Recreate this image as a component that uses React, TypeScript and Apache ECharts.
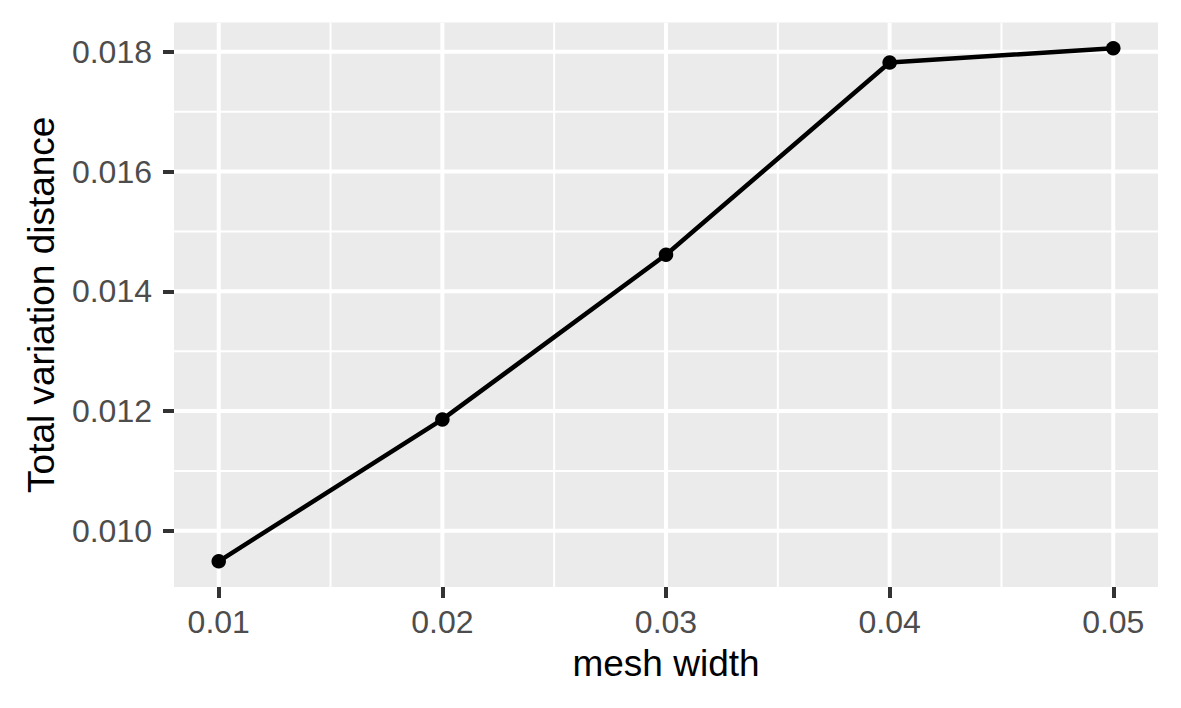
import React, { useEffect, useRef } from "react";
import * as echarts from "echarts";

const meshWidth = [0.01, 0.02, 0.03, 0.04, 0.05];
const tvDistance = [0.00949, 0.01186, 0.01461, 0.01782, 0.01806];
const xMajorTicks = [0.01, 0.02, 0.03, 0.04, 0.05];
const xMinorTicks = [0.015, 0.025, 0.035, 0.045];
const yMajorTicks = [0.01, 0.012, 0.014, 0.016, 0.018];
const yMinorTicks = [0.011, 0.013, 0.015, 0.017];
const xTitle = "mesh width";
const yTitle = "Total variation distance";

export default function App() {
  const ref = useRef<HTMLDivElement>(null);

  useEffect(() => {
    if (!ref.current) return;
    const chart = echarts.init(ref.current, undefined, { renderer: "svg" });

    const xMin = Math.min(...meshWidth);
    const xMax = Math.max(...meshWidth);
    const yMin = Math.min(...tvDistance);
    const yMax = Math.max(...tvDistance);
    const xPad = (xMax - xMin) * 0.05;
    const yPad = (yMax - yMin) * 0.05;
    const xMid = (xMin + xMax) / 2;
    const yMid = (yMin + yMax) / 2;

    const font = "'Liberation Sans', Arial, Helvetica, sans-serif";
    const MAJOR_W = 4;
    const MINOR_W = 2;

    // data: [value on the grid axis, other dim (in range), isMajor]
    const vData = [
      ...xMinorTicks.map((v) => [v, yMid, 0]),
      ...xMajorTicks.map((v) => [v, yMid, 1]),
    ];
    const hData = [
      ...yMinorTicks.map((v) => [xMid, v, 0]),
      ...yMajorTicks.map((v) => [xMid, v, 1]),
    ];

    const vRender = (params: any, api: any) => {
      const cs = params.coordSys;
      const p = api.coord([api.value(0), api.value(1)]);
      return {
        type: "line",
        shape: { x1: p[0], y1: cs.y, x2: p[0], y2: cs.y + cs.height },
        style: { stroke: "#FFFFFF", lineWidth: api.value(2) ? MAJOR_W : MINOR_W },
        silent: true,
      };
    };
    const hRender = (params: any, api: any) => {
      const cs = params.coordSys;
      const p = api.coord([api.value(0), api.value(1)]);
      return {
        type: "line",
        shape: { x1: cs.x, y1: p[1], x2: cs.x + cs.width, y2: p[1] },
        style: { stroke: "#FFFFFF", lineWidth: api.value(2) ? MAJOR_W : MINOR_W },
        silent: true,
      };
    };

    chart.setOption({
      animation: false,
      backgroundColor: "#FFFFFF",
      textStyle: { fontFamily: font },
      grid: {
        left: 174,
        right: 23,
        top: 22.5,
        bottom: 121,
        show: true,
        backgroundColor: "#EBEBEB",
        borderWidth: 0,
      },
      xAxis: {
        type: "value",
        min: xMin - xPad,
        max: xMax + xPad,
        name: xTitle,
        nameLocation: "middle",
        nameGap: 58,
        nameTextStyle: { color: "#000000", fontSize: 37, fontFamily: font },
        axisLine: { show: false },
        splitLine: { show: false },
        axisTick: {
          show: true,
          customValues: xMajorTicks,
          length: 11,
          lineStyle: { color: "#333333", width: 4 },
        },
        axisLabel: {
          customValues: xMajorTicks,
          margin: 19,
          color: "#4D4D4D",
          fontSize: 32,
          fontFamily: font,
          formatter: (v: number) => v.toFixed(2),
        },
      },
      yAxis: {
        type: "value",
        min: yMin - yPad,
        max: yMax + yPad,
        name: yTitle,
        nameLocation: "middle",
        nameGap: 114,
        nameTextStyle: { color: "#000000", fontSize: 37, fontFamily: font },
        axisLine: { show: false },
        splitLine: { show: false },
        axisTick: {
          show: true,
          customValues: yMajorTicks,
          length: 11,
          lineStyle: { color: "#333333", width: 4 },
        },
        axisLabel: {
          customValues: yMajorTicks,
          margin: 22,
          color: "#4D4D4D",
          fontSize: 32,
          fontFamily: font,
          formatter: (v: number) => v.toFixed(3),
        },
      },
      series: [
        {
          type: "custom",
          name: "vgrid",
          z: 1,
          silent: true,
          clip: true,
          renderItem: vRender,
          encode: { x: 0, y: 1 },
          data: vData,
        },
        {
          type: "custom",
          name: "hgrid",
          z: 1,
          silent: true,
          clip: true,
          renderItem: hRender,
          encode: { x: 0, y: 1 },
          data: hData,
        },
        {
          type: "line",
          name: "Total variation distance",
          data: meshWidth.map((x, i) => [x, tvDistance[i]]),
          z: 3,
          symbol: "circle",
          symbolSize: 14.5,
          itemStyle: { color: "#000000", borderWidth: 0 },
          lineStyle: { color: "#000000", width: 4.5 },
        },
      ],
    });

    return () => chart.dispose();
  }, []);

  return (
    <div
      ref={ref}
      style={{ position: "absolute", left: 0, top: 0, width: 1181, height: 708 }}
    />
  );
}
